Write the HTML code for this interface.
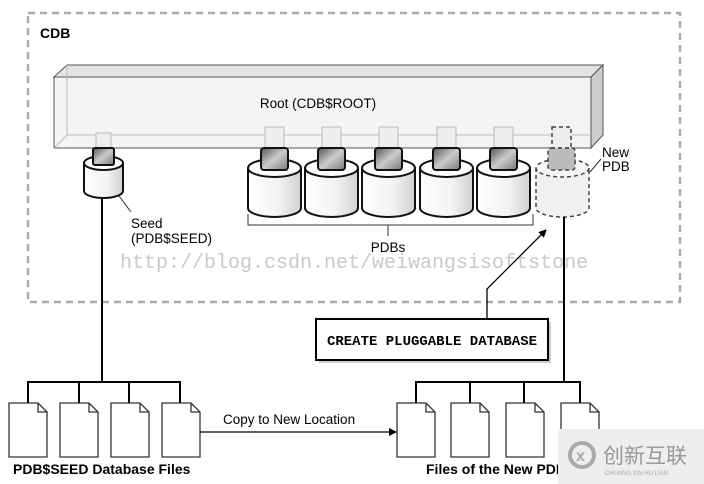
<!DOCTYPE html>
<html><head><meta charset="utf-8"><style>
html,body{margin:0;padding:0;background:#fff;}
svg{display:block;}
</style></head><body>
<svg width="704" height="484" viewBox="0 0 704 484" xmlns="http://www.w3.org/2000/svg" font-family="Liberation Sans, Arial, sans-serif">
<defs>
<linearGradient id="cyl" x1="0" x2="1" y1="0" y2="0">
<stop offset="0" stop-color="#fff"/><stop offset="0.6" stop-color="#f2f2f2"/><stop offset="1" stop-color="#d0d0d0"/>
</linearGradient>
<linearGradient id="plug" x1="0" x2="1" y1="0" y2="1">
<stop offset="0" stop-color="#555"/><stop offset="0.5" stop-color="#ccc"/><stop offset="1" stop-color="#777"/>
</linearGradient>
<marker id="ah" markerWidth="8" markerHeight="8" refX="7" refY="4" orient="auto" markerUnits="userSpaceOnUse">
<path d="M0,0 L8,4 L0,8 z" fill="#000"/></marker>
</defs>
<rect x="28" y="13" width="652" height="289" fill="none" stroke="#aaa" stroke-width="2.5" stroke-dasharray="7,5"/>
<text x="40" y="38" font-size="14" font-weight="bold">CDB</text>
<polygon points="54,77 67,65 603,65 591,77" fill="#e4e4e4" stroke="#555" stroke-width="1"/>
<polygon points="591,77 603,65 603,135 591,148" fill="#ccc" stroke="#555" stroke-width="1"/>
<rect x="54" y="77" width="537" height="71" fill="#f4f4f4" stroke="#555" stroke-width="1"/>
<line x1="67" y1="65" x2="67" y2="135" stroke="#bbb"/>
<line x1="67" y1="135" x2="591" y2="135" stroke="#bbb"/>
<line x1="54" y1="148" x2="67" y2="135" stroke="#bbb"/>
<text x="318" y="108" font-size="13.5" text-anchor="middle">Root (CDB$ROOT)</text>
<rect x="96" y="133" width="15" height="15" fill="#eee" stroke="#bbb"/>
<path d="M84,163 L84,191 A19.5,7 0 0 0 123,191 L123,163" fill="url(#cyl)" stroke="#111" stroke-width="2"/>
<ellipse cx="103.5" cy="163" rx="19.5" ry="7" fill="#fff" stroke="#111" stroke-width="2"/>
<rect x="93" y="148" width="21" height="17" rx="2" fill="url(#plug)" stroke="#111" stroke-width="2"/>
<line x1="119" y1="196" x2="131" y2="212" stroke="#333"/>
<text x="131" y="228" font-size="13.5">Seed</text>
<text x="131" y="243" font-size="13.5">(PDB$SEED)</text>
<g stroke="#111" stroke-width="2">
<path d="M248,168 L248,208 A26.5,9 0 0 0 301,208 L301,168" fill="url(#cyl)"/><ellipse cx="274.5" cy="168" rx="26.5" ry="9" fill="#fff"/>
<path d="M305,168 L305,208 A26.5,9 0 0 0 358,208 L358,168" fill="url(#cyl)"/><ellipse cx="331.5" cy="168" rx="26.5" ry="9" fill="#fff"/>
<path d="M362,168 L362,208 A26.5,9 0 0 0 415,208 L415,168" fill="url(#cyl)"/><ellipse cx="388.5" cy="168" rx="26.5" ry="9" fill="#fff"/>
<path d="M420,168 L420,208 A26.5,9 0 0 0 473,208 L473,168" fill="url(#cyl)"/><ellipse cx="446.5" cy="168" rx="26.5" ry="9" fill="#fff"/>
<path d="M477,168 L477,208 A26.5,9 0 0 0 530,208 L530,168" fill="url(#cyl)"/><ellipse cx="503.5" cy="168" rx="26.5" ry="9" fill="#fff"/>
</g>
<g stroke="#bbb" fill="#eee">
<rect x="265" y="127" width="19" height="21"/><rect x="322" y="127" width="19" height="21"/><rect x="379" y="127" width="19" height="21"/><rect x="437" y="127" width="19" height="21"/><rect x="494" y="127" width="19" height="21"/>
</g>
<g stroke="#111" stroke-width="2" fill="url(#plug)">
<rect x="261" y="148" width="27" height="22" rx="3"/><rect x="318" y="148" width="27" height="22" rx="3"/><rect x="375" y="148" width="27" height="22" rx="3"/><rect x="433" y="148" width="27" height="22" rx="3"/><rect x="490" y="148" width="27" height="22" rx="3"/>
</g>
<g stroke="#444" stroke-width="1.5" stroke-dasharray="4,3">
<rect x="552" y="127" width="19" height="21" fill="#eee"/>
<path d="M536,168 L536,208 A26.5,9 0 0 0 589,208 L589,168" fill="#f0f0f0"/>
<ellipse cx="562.5" cy="168" rx="26.5" ry="9" fill="#f6f6f6"/>
<rect x="548" y="148" width="27" height="22" rx="3" fill="#bbb"/>
</g>
<line x1="590" y1="172" x2="601" y2="159" stroke="#333"/>
<text x="602" y="157" font-size="13.5">New</text>
<text x="602" y="171" font-size="13.5">PDB</text>
<path d="M248,214 L248,225 L533,225 L533,214 M388,225 L388,236" fill="none" stroke="#333"/>
<text x="388" y="252" font-size="13.5" text-anchor="middle">PDBs</text>
<text x="120" y="268" font-family="Liberation Mono, monospace" font-size="20" fill="#bbb" fill-opacity="0.8">http://blog.csdn.net/weiwangsisoftstone</text>
<line x1="102" y1="198" x2="102" y2="382" stroke="#000" stroke-width="2"/>
<line x1="564" y1="217" x2="564" y2="382" stroke="#000" stroke-width="2"/>
<polyline points="487,319 487,289 546,230" fill="none" stroke="#000" stroke-width="1.3" marker-end="url(#ah)"/>
<rect x="319" y="322" width="232" height="41" fill="#ccc"/>
<rect x="316" y="319" width="232" height="41" fill="#fff" stroke="#000" stroke-width="2"/>
<text x="432" y="345" font-family="Liberation Mono, monospace" font-weight="bold" font-size="14" text-anchor="middle">CREATE PLUGGABLE DATABASE</text>
<g stroke="#000" stroke-width="2" fill="none">
<path d="M28,403 L28,382 L180,382 L180,403 M79,382 L79,403 M129,382 L129,403"/>
<path d="M416,403 L416,382 L580,382 L580,403 M470,382 L470,403 M524,382 L524,403"/>
</g>
<g fill="#fff" stroke="#333" stroke-width="1.3">
<path d="M9,403 L38,403 L47,412 L47,457 L9,457 Z M38,403 L38,412 L47,412"/>
<path d="M60,403 L89,403 L98,412 L98,457 L60,457 Z M89,403 L89,412 L98,412"/>
<path d="M111,403 L140,403 L149,412 L149,457 L111,457 Z M140,403 L140,412 L149,412"/>
<path d="M162,403 L191,403 L200,412 L200,457 L162,457 Z M191,403 L191,412 L200,412"/>
<path d="M397,403 L426,403 L435,412 L435,457 L397,457 Z M426,403 L426,412 L435,412"/>
<path d="M451,403 L480,403 L489,412 L489,457 L451,457 Z M480,403 L480,412 L489,412"/>
<path d="M506,403 L535,403 L544,412 L544,457 L506,457 Z M535,403 L535,412 L544,412"/>
<path d="M561,403 L590,403 L599,412 L599,457 L561,457 Z M590,403 L590,412 L599,412"/>
</g>
<line x1="200" y1="432" x2="396" y2="432" stroke="#000" stroke-width="1.3" marker-end="url(#ah)"/>
<text x="223" y="424" font-size="13.5">Copy to New Location</text>
<text x="13" y="474" font-size="14" font-weight="bold">PDB$SEED Database Files</text>
<text x="426" y="474" font-size="14" font-weight="bold">Files of the New PDB</text>
<rect x="558" y="429" width="146" height="55" fill="#eeeeee"/>
<circle cx="582" cy="455" r="12" fill="none" stroke="#aaa" stroke-width="4"/>
<text x="576" y="461" font-size="16" font-weight="bold" fill="#aaa">x</text>
<text x="603" y="463" font-family="Noto Sans CJK SC, sans-serif" font-size="21" fill="#999">创新互联</text>
<text x="605" y="475" font-size="6" fill="#aaa">CHUANG XIN HU LIAN</text>
</svg>
</body></html>
